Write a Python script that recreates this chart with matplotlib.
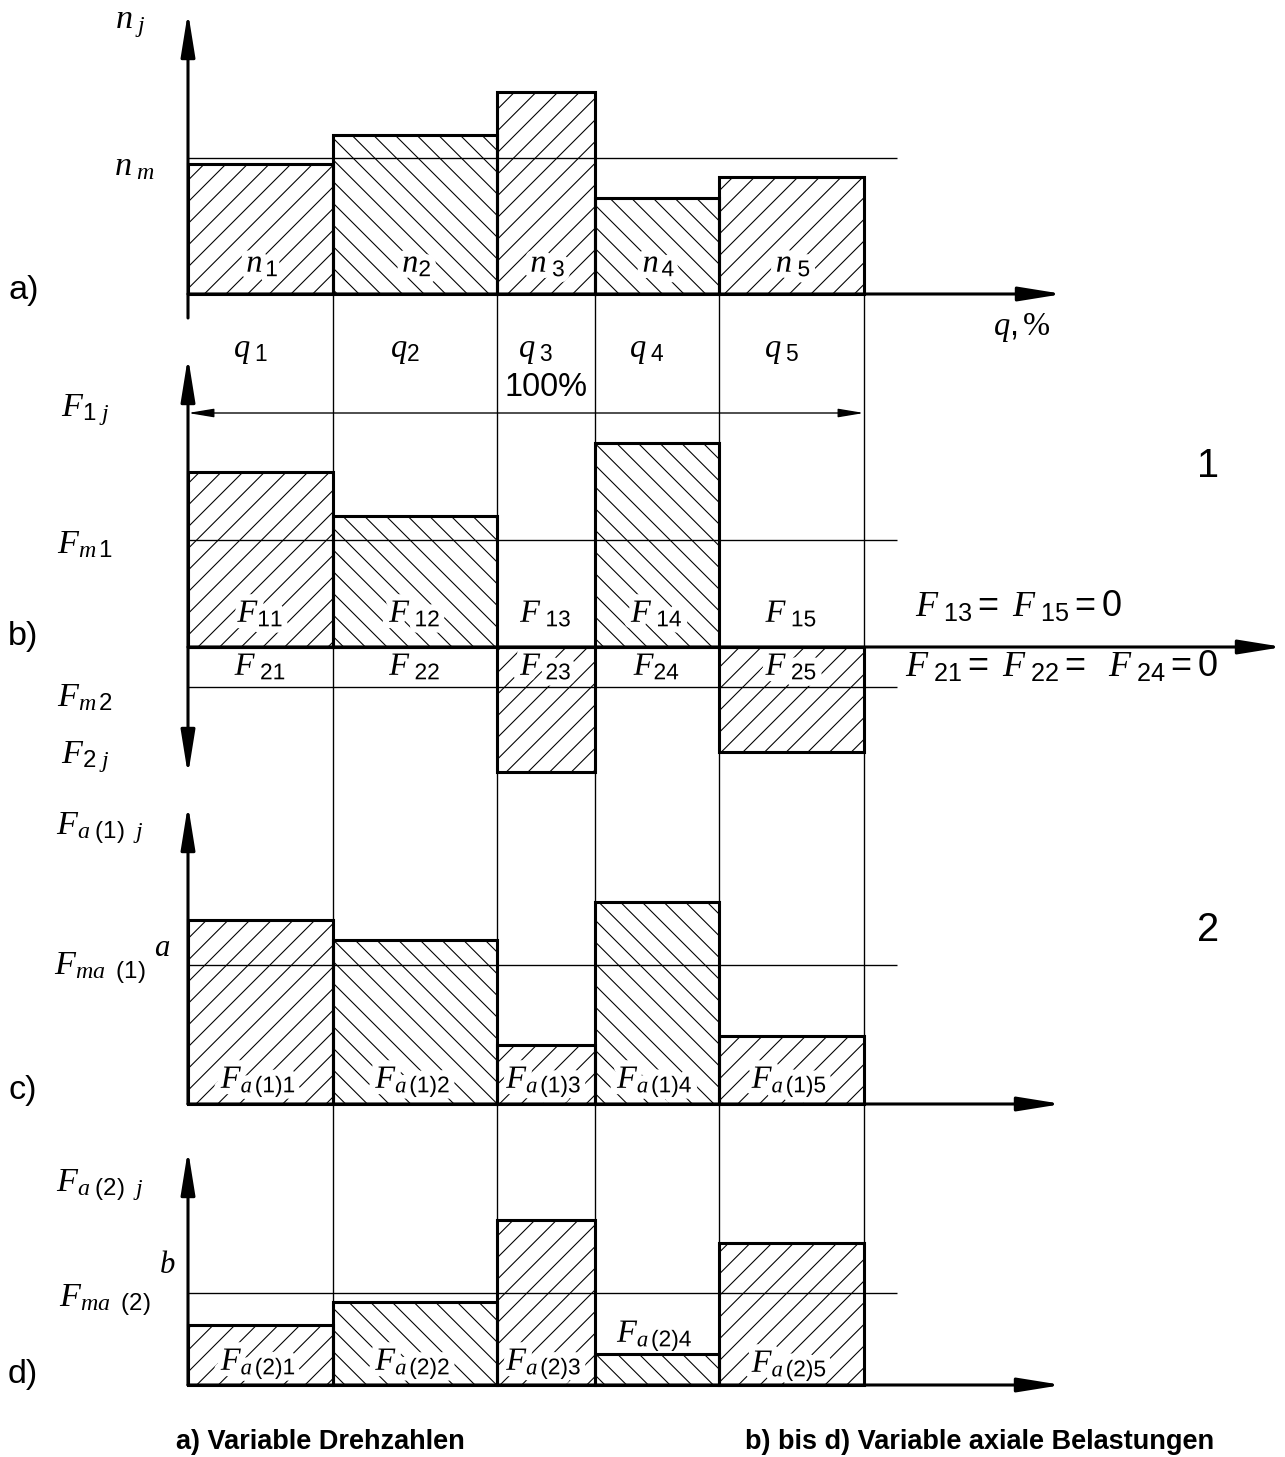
import matplotlib
matplotlib.use("Agg")
import matplotlib.pyplot as plt
import matplotlib.patheffects as pe
from matplotlib.patches import FancyArrowPatch
import numpy as np

# time shares q_j in percent (sum = 100)
q_share = [21.45, 24.26, 14.50, 18.34, 21.45]

# a) speeds n_j and mean speed
n_speed = [130, 159, 202, 96, 117]
n_mean = 136

# b) axial loads in direction 1 (up) and direction 2 (down)
f1_load = [175, 131, 0, 204, 0]
f1_mean = 107
f2_load = [0, 0, 125, 0, 105]
f2_mean = 40

# c) and d) resulting axial loads on bearing 1 and 2
fa1_load = [184, 164, 59, 202, 68]
fa1_mean = 139
fa2_load = [60, 83, 165, 31, 142]
fa2_mean = 92

hatch_alt = ['//', '\\\\', '//', '\\\\', '//']

n_labels = [r'$n_{\,1}$', r'$n_{2}$', r'$n_{\ 3}$', r'$n_{\,4}$', r'$n_{\ 5}$']
q_labels = [r'$q_{\ 1}$', r'$q_{2}$', r'$q_{\ 3}$', r'$q_{\ 4}$', r'$q_{\ 5}$']
f1_labels = [r'$F_{11}$', r'$F_{\ 12}$', r'$F_{\ 13}$', r'$F_{\ 14}$', r'$F_{\ 15}$']
f2_labels = [r'$F_{\ 21}$', r'$F_{\ 22}$', r'$F_{\ 23}$', r'$F_{24}$', r'$F_{\ 25}$']
fa1_labels = [r'$F_{a\,(1)%d}$' % i for i in range(1, 6)]
fa2_labels = [r'$F_{a\,(2)%d}$' % i for i in range(1, 6)]

# layout (pixels from the top-left corner)
W, H, DPI = 1285, 1457, 130
X0 = 188            # q = 0
PX_PER_PCT = 6.76   # 100 % = 676 px
BASE = {'a': 294, 'b': 647, 'c': 1104, 'd': 1385}
LW_BOLD = 1.7
LW_THIN = 0.75

plt.rcParams['font.family'] = ['Liberation Sans', 'DejaVu Sans']
plt.rcParams['mathtext.fontset'] = 'custom'
plt.rcParams['mathtext.it'] = 'Liberation Serif:italic'
plt.rcParams['mathtext.rm'] = 'Liberation Sans'
plt.rcParams['mathtext.bf'] = 'Liberation Sans:bold'
plt.rcParams['hatch.linewidth'] = 0.6
plt.rcParams['hatch.color'] = 'black'

fig = plt.figure(figsize=(W / DPI, H / DPI), dpi=DPI)

# chart axes: x in percent, y in pixels measured upwards
ax = fig.add_axes([0, 0, 1, 1])
ax.set_xlim(-X0 / PX_PER_PCT, (W - X0) / PX_PER_PCT)
ax.set_ylim(0, H)
ax.axis('off')

# layout axes: plain pixel coordinates (used as transform only)
lay = fig.add_axes([0, 0, 1, 1])
lay.set_xlim(0, W)
lay.set_ylim(H, 0)
lay.axis('off')
px = lay.transData

lefts = np.concatenate([[0], np.cumsum(q_share)[:-1]])
centers = lefts + np.array(q_share) / 2
edges = np.cumsum(q_share)
mean_end = 104.9


def yb(panel):
    return H - BASE[panel]


def draw_bars(values, panel, sign=1):
    heights = sign * np.array(values)
    # hatching first, labels above it, outlines on top
    hatched = ax.bar(lefts, heights, width=q_share, bottom=yb(panel), align='edge',
                     facecolor='none', edgecolor='black', linewidth=0, zorder=3)
    for patch, h in zip(hatched, hatch_alt):
        patch.set_hatch(h)
    ax.bar(lefts, heights, width=q_share, bottom=yb(panel), align='edge',
           facecolor='none', edgecolor='black', linewidth=LW_BOLD, zorder=5)


def arrow(x0, y0, x1, y1, style='-|>', hl=20.5, hw=3.3, lw=LW_BOLD):
    ax.add_patch(FancyArrowPatch((x0, y0), (x1, y1), transform=px,
                                 arrowstyle=f'{style},head_length={hl},head_width={hw}',
                                 mutation_scale=1, lw=lw, color='black',
                                 shrinkA=0, shrinkB=0, zorder=6))


halo = [pe.withStroke(linewidth=7, foreground='white')]


def label(x, y, s, size=18, ha='center', va='center', **kw):
    ax.text(x, y, s, transform=px, fontsize=size, ha=ha, va=va, zorder=4, **kw)


def bar_labels(labels, ys, dx=0, halo_on=True):
    if np.isscalar(ys):
        ys = [ys] * len(labels)
    for c, lab, y in zip(centers, labels, ys):
        label(X0 + c * PX_PER_PCT + dx, y, lab, va='baseline',
              path_effects=halo if halo_on else None)


# thin boundary lines through all panels
ax.vlines(edges, H - BASE['d'], H - BASE['a'], color='black', lw=LW_THIN, zorder=2)

# bars
draw_bars(n_speed, 'a')
draw_bars(f1_load, 'b')
draw_bars(f2_load, 'b', sign=-1)
draw_bars(fa1_load, 'c')
draw_bars(fa2_load, 'd')

# mean lines
ax.hlines([yb('a') + n_mean, yb('b') + f1_mean, yb('b') - f2_mean,
           yb('c') + fa1_mean, yb('d') + fa2_mean], 0, mean_end,
          color='black', lw=LW_THIN, zorder=2)

# 100 % dimension line
ax.annotate('', xy=(edges[-1], H - 413), xytext=(0, H - 413),
            arrowprops=dict(arrowstyle='<|-|>,head_length=12,head_width=2',
                            mutation_scale=1, lw=LW_THIN, color='black',
                            shrinkA=0, shrinkB=0))

# axes with arrows
arrow(X0, 318, X0, 12)
arrow(X0, BASE['a'], 1063, BASE['a'])
arrow(X0, 775, X0, 357, style='<|-|>')
arrow(X0, BASE['b'], 1283, BASE['b'])
arrow(X0, BASE['c'], X0, 805)
arrow(X0, BASE['c'], 1062, BASE['c'])
arrow(X0, BASE['d'], X0, 1150)
arrow(X0, BASE['d'], 1062, BASE['d'])

# labels inside the bars
bar_labels(n_labels, 272, dx=2)
bar_labels(q_labels, 357, dx=-10, halo_on=False)
bar_labels(f1_labels, 622)
bar_labels(f2_labels, 675)
bar_labels(fa1_labels, 1088, dx=-2)
bar_labels(fa2_labels, [1370, 1370, 1370, 1342, 1372], dx=-2)

label(546, 388, '100%')
label(1022, 328, r'$q,$%', family='Liberation Serif')

# left side axis labels
left_labels = [
    (130, 24, r'$n_{\ j}$'), (135, 167, r'$n_{\ m}$'),
    (85, 410, r'$F_{1\ j}$'), (85, 545, r'$F_{m\,1}$'),
    (85, 698, r'$F_{m\,2}$'), (85, 757, r'$F_{2\ j}$'),
    (100, 828, r'$F_{a\ (1)\ \ j}$'), (100, 968, r'$F_{ma\ \ (1)}$'),
    (100, 1185, r'$F_{a\ (2)\ \ j}$'), (105, 1300, r'$F_{ma\ \ (2)}$'),
]
for x, y, s in left_labels:
    label(x, y, s, size=19)
label(162, 948, r'$a$', size=17)
label(167, 1265, r'$b$', size=17)

for y, s in [(290, 'a)'), (637, 'b)'), (1090, 'c)'), (1375, 'd)')]:
    label(8, y, s, size=19, ha='left')

label(1208, 466, '1', size=22)
label(1208, 930, '2', size=22)

label(915, 607, r'$F_{\ 13}=\ F_{\ 15}=0$', size=20, ha='left')
label(905, 667, r'$F_{\ 21}=\ F_{\ 22}=\ \ F_{\ 24}=0$', size=20, ha='left')

# captions
label(320, 1442, 'a) Variable Drehzahlen', size=15, fontweight='bold')
label(980, 1442, 'b) bis d) Variable axiale Belastungen', size=15, fontweight='bold')

fig.savefig('out.png', dpi=DPI, facecolor='white')
